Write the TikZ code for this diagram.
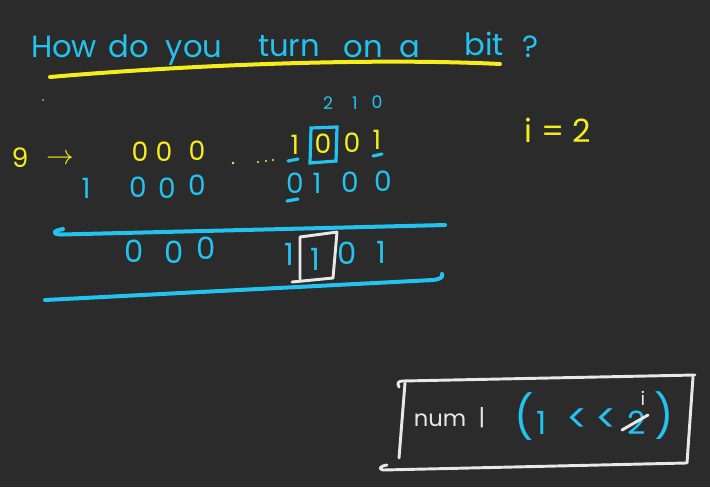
\documentclass[tikz,border=0pt]{standalone}
\usepackage{fontspec}
\setmainfont{Poppins}
\definecolor{board}{RGB}{43,43,43}
\definecolor{cy}{RGB}{35,195,240}
\definecolor{yl}{RGB}{245,238,25}
\definecolor{wh}{RGB}{232,232,232}
\begin{document}
\begin{tikzpicture}[x=0.75pt,y=-0.75pt,
  every node/.style={inner sep=0pt,outer sep=0pt},
  title/.style={text=cy,font=\fontsize{23}{27}\selectfont,anchor=base},
  ydig/.style={text=yl,font=\fontsize{20}{24}\selectfont},
  cdig/.style={text=cy,font=\fontsize{21}{24}\selectfont},
  rdig/.style={text=cy,font=\fontsize{23}{26}\selectfont},
  idx/.style={text=cy,font=\fontsize{13}{15}\selectfont},
  cline/.style={draw=cy,line width=3pt,line cap=round,line join=round},
  yline/.style={draw=yl,line width=3pt,line cap=round},
  wline/.style={draw=wh,line width=2.2pt,line cap=round,line join=round},
  cmark/.style={draw=cy,line width=2.4pt,line cap=round},
  wtext/.style={text=wh,font=\fontsize{17}{20}\selectfont},
  ctext/.style={text=cy,font=\fontsize{24}{28}\selectfont},
  paren/.style={text=cy,font=\fontsize{32}{36}\selectfont}]
\fill[board] (0,0) rectangle (710,487);
\useasboundingbox (0,0) rectangle (710,487);

% title
\node[title] (tHow) at (64,57) {How};
\node[title] (tdo) at (129,57) {do};
\node[title] (tyou) at (194,57) {you};
\node[title] (tturn) at (289,56) {turn};
\node[title] (ton) at (363,57) {on};
\node[title] (ta) at (410,57) {a};
\node[title] (tbit) at (484,55) {bit};
\node[title] (tq) at (531,57) {?};
\draw[yline] (50,77) .. controls (200,64) and (380,58) .. (500,64);

% stray dot
\fill[wh!70!board] (43,100) circle (1);

% bit indices
\node[idx] (i2) at (328,103) {2};
\node[idx] (i1) at (355,103) {1};
\node[idx] (i0) at (377,102) {0};

% row 1 (9)
\node[ydig] (n9) at (20,158) {9};
\node[text=yl,font=\fontsize{20}{24}\selectfont] (arr) at (60,159) {$\rightarrow$};
\node[ydig] (a1) at (140,152) {0};
\node[ydig] (a2) at (164,152) {0};
\node[ydig] (a3) at (197,151) {0};
\fill[yl!60!wh] (233,163) circle (1.3);
\fill[yl!60!wh] (258,162) circle (1.1);
\fill[yl!60!wh] (266,161) circle (1.1);
\fill[yl!60!wh] (273,160) circle (1.1);
\node[ydig] (a4) at (295,145) {1};
\node[ydig] (a5) at (323,144) {0};
\node[ydig] (a6) at (352,143) {0};
\node[ydig] (a7) at (377,140) {1};
\draw[cmark] (311,128) -- (337,127) -- (336,161) -- (310,163) -- cycle;
\draw[cmark] (288,161) -- (298,159);
\draw[cmark] (373,156) -- (382,154);

% row 2 (1)
\node[cdig] (b0) at (86,188) {1};
\node[cdig] (b1) at (138,187) {0};
\node[cdig] (b2) at (167,188) {0};
\node[cdig] (b3) at (197,185) {0};
\node[cdig] (b4) at (295,183) {0};
\node[cdig] (b5) at (317,183) {1};
\node[cdig] (b6) at (350,182) {0};
\node[cdig] (b7) at (383,181) {0};
\draw[cmark] (287,201) -- (298,199);

% first rule
\draw[cline] (63,229) .. controls (52,231) and (52,234.5) .. (62,234.5) -- (445,225);

% result row
\node[rdig] (c1) at (134,251) {0};
\node[rdig] (c2) at (174,252) {0};
\node[rdig] (c3) at (206,248) {0};
\node[rdig] (c4) at (289,254) {1};
\node[rdig] (c5) at (315,259) {1};
\node[rdig] (c6) at (347,253) {0};
\node[rdig] (c7) at (381,252) {1};
\draw[wline] (300,279) -- (300,237) -- (337,232) -- (333,278) -- (292,282);

% second rule
\draw[cline] (45,300) -- (433,280) .. controls (441,279) and (443,277) .. (442,274);

% i = 2
\node[text=yl,font=\fontsize{24}{28}\selectfont] (ieq) at (558,130) {i = 2};

% formula box
\draw[wline] (399,387) .. controls (397,383) and (398,381) .. (403,381) -- (695,375);
\draw[wline] (405,383) -- (399,458);
\draw[wline] (693,377) -- (687,463);
\draw[wline] (387,465) .. controls (380,466) and (378,469) .. (383,470) -- (686,463);
\node[wtext] (num) at (440,420) {num};
\node[wtext] (bor) at (482,418) {|};
\node[paren] (lp) at (524,417) {(};
\node[ctext] (one) at (542,423) {1};
\node[ctext,font=\fontsize{30}{34}\selectfont] (lt1) at (578,421) {<};
\node[ctext,font=\fontsize{30}{34}\selectfont] (lt2) at (607,421) {<};
\node[ctext] (two) at (637,423) {2};
\node[paren] (rp) at (664,416) {)};
\draw[wline] (622,430) -- (648,415);
\node[text=wh,font=\fontsize{14}{16}\selectfont] (inew) at (643,398) {i};
\end{tikzpicture}
\end{document}
